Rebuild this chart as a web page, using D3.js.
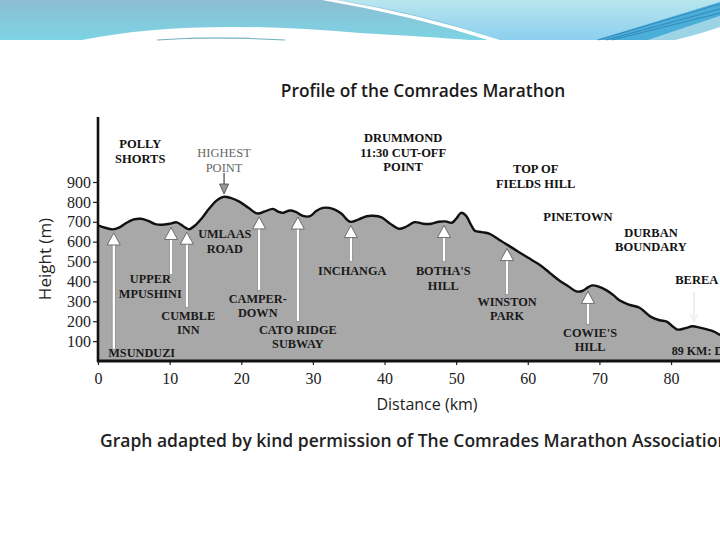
<!DOCTYPE html>
<html>
<head>
<meta charset="utf-8">
<script src="https://cdn.jsdelivr.net/npm/d3@7"></script>
<style>
  body { margin: 0; background: #fff; }
  svg { display: block; }
</style>
</head>
<body>
<svg id="chart"></svg>
<script>
// Course profile
const profileKm = [0, 1, 2, 3, 4, 5, 6, 7, 8, 9, 10, 11, 12, 12.7, 13.5, 14.5, 15.5, 16.5, 17.5, 18.5,
  19.8, 21, 22.2, 23.3, 24.4, 25.2, 25.8, 26.8, 27.6, 28.6, 29.6, 30.5, 31.4, 32.8, 34, 35.2, 36.4,
  37.5, 38.4, 39.6, 40.8, 42, 43, 44.2, 45.4, 46.5, 47.6, 48.5, 49.4, 50, 50.7, 51.4, 52, 52.6, 53.6,
  54.6, 56, 58, 60, 61.6, 63, 64.4, 65.5, 66.8, 67.6, 68.4, 69, 69.8, 71, 72, 72.8, 74, 75.6, 76.4,
  77.2, 78.4, 79.4, 80.2, 80.9, 82, 83, 84, 84.9, 86, 86.8, 88, 89];
const profileHeight = [682, 670, 662, 672, 695, 712, 715, 705, 688, 685, 690, 697, 675, 662, 680, 718,
  765, 805, 825, 820, 800, 770, 742, 752, 765, 750, 745, 757, 750, 730, 728, 755, 770, 765, 740, 700,
  712, 728, 730, 722, 690, 665, 675, 698, 690, 690, 700, 702, 695, 715, 745, 730, 690, 655, 648, 640,
  610, 565, 520, 485, 445, 405, 380, 350, 352, 370, 380, 375, 355, 330, 305, 285, 268, 245, 222, 205,
  198, 175, 158, 165, 175, 168, 160, 148, 132, 115, 100];

const xTicks = [0, 10, 20, 30, 40, 50, 60, 70, 80];
const yTicks = [100, 200, 300, 400, 500, 600, 700, 800, 900];

// Landmarks marked with white arrows (km of arrow, height of arrow base)
const arrowKm = [2.2, 10.2, 12.4, 22.5, 27.9, 35.3, 48.3, 57.1, 68.4];
const arrowBase = [60, 435, 270, 355, 200, 500, 500, 335, 185];

// Labels inside the profile: text lines, km (centre) and height (first baseline)
const innerNames = [["MSUNDUZI"], ["UPPER", "MPUSHINI"], ["CUMBLE", "INN"], ["UMLAAS", "ROAD"],
  ["CAMPER-", "DOWN"], ["CATO RIDGE", "SUBWAY"], ["INCHANGA"], ["BOTHA'S", "HILL"],
  ["WINSTON", "PARK"], ["COWIE'S", "HILL"]];
const innerKm = [6.1, 7.3, 12.6, 17.7, 22.3, 27.9, 35.5, 48.2, 57.1, 68.7];
const innerHeight = [18, 392, 208, 618, 292, 137, 432, 432, 278, 122];

// Labels above the profile
const topNames = [["POLLY", "SHORTS"], ["HIGHEST", "POINT"], ["DRUMMOND", "11:30 CUT-OFF", "POINT"],
  ["TOP OF", "FIELDS HILL"], ["PINETOWN"], ["DURBAN", "BOUNDARY"], ["BEREA"]];
const topKm = [5.9, 17.6, 42.6, 61.1, 67.0, 77.2, 83.6];
const topHeight = [1070, 1025, 1100, 945, 705, 625, 385];

const W = 720, H = 540;
const svg = d3.select("#chart").attr("width", W).attr("height", H);

// ---- decorative header band ----
const defs = svg.append("defs");
const g1 = defs.append("linearGradient").attr("id", "bandLeft").attr("x1", 0).attr("y1", 0).attr("x2", 0).attr("y2", 1);
g1.append("stop").attr("offset", "0%").attr("stop-color", "#8cbdd3");
g1.append("stop").attr("offset", "100%").attr("stop-color", "#7dd4e4");
const g2 = defs.append("linearGradient").attr("id", "bandRight").attr("x1", 0).attr("y1", 0).attr("x2", 0).attr("y2", 1);
g2.append("stop").attr("offset", "0%").attr("stop-color", "#b8e6ee");
g2.append("stop").attr("offset", "100%").attr("stop-color", "#8ccfee");

const head = svg.append("g");
head.append("rect").attr("x", 0).attr("y", 0).attr("width", W).attr("height", 40).attr("fill", "url(#bandLeft)");
head.append("path").attr("d", "M335,0 L720,0 L720,40 L500,40 Q420,12 335,0 Z").attr("fill", "url(#bandRight)");
head.append("path").attr("d", "M322,0 L336,0 Q420,14 500,40 L488,40 Q410,15 322,0 Z").attr("fill", "#ffffff");
head.append("path").attr("d", "M82,40 Q190,18 360,33 Q430,37 470,40 Z").attr("fill", "#ffffff");
head.append("path").attr("d", "M596,40 L720,2 L720,16 L648,40 Z").attr("fill", "#4aaed8");
head.append("path").attr("d", "M648,40 L720,16 L720,27 Q700,34 675,40 Z").attr("fill", "#9cd4e6");
head.append("path").attr("d", "M675,40 Q700,34 720,27 L720,40 Z").attr("fill", "#ffffff");
[[598, 40, 720, 4], [606, 40, 720, 9], [612, 40, 720, 13]].forEach(l => {
  head.append("line").attr("x1", l[0]).attr("y1", l[1]).attr("x2", l[2]).attr("y2", l[3])
    .attr("stroke", "#2f7fb4").attr("stroke-width", 0.8);
});
head.append("path").attr("d", "M157,40 Q210,36 285,40").attr("fill", "none").attr("stroke", "#6fb0c0").attr("stroke-width", 1);
head.append("path").attr("d", "M190,38 L250,38").attr("fill", "none").attr("stroke", "#8cc2d0").attr("stroke-width", 0.8);

// ---- scales ----
const x = d3.scaleLinear().domain([0, 89]).range([98, 98 + 89 * 7.163]);
const y = d3.scaleLinear().domain([0, 900]).range([361, 182]);
const heightAt = d3.scaleLinear().domain(profileKm).range(profileHeight);

const pts = profileKm.map((k, i) => [k, profileHeight[i]]);

// gray area under the profile
svg.append("path")
  .datum(pts)
  .attr("fill", "#a8a8a8")
  .attr("d", d3.area().x(d => x(d[0])).y0(y(0)).y1(d => y(d[1])).curve(d3.curveCatmullRom));

svg.append("path")
  .datum(pts)
  .attr("fill", "none")
  .attr("stroke", "#111")
  .attr("stroke-width", 2.4)
  .attr("d", d3.line().x(d => x(d[0])).y(d => y(d[1])).curve(d3.curveCatmullRom));

// ---- axes ----
const yAxis = svg.append("g")
  .attr("transform", "translate(98,0)")
  .call(d3.axisLeft(y).tickValues(yTicks).tickSize(5).tickPadding(2));
yAxis.select(".domain").remove();
yAxis.selectAll("text").attr("font-family", "Liberation Serif, serif").attr("font-size", 16).attr("fill", "#222");
yAxis.selectAll("line").attr("stroke", "#222").attr("stroke-width", 1.2);

const xAxis = svg.append("g")
  .attr("transform", "translate(0," + y(0) + ")")
  .call(d3.axisBottom(x).tickValues(xTicks).tickSize(4).tickPadding(8));
xAxis.select(".domain").remove();
xAxis.selectAll("text").attr("font-family", "Liberation Serif, serif").attr("font-size", 16).attr("fill", "#222");
xAxis.selectAll("line").attr("stroke", "#222").attr("stroke-width", 1.2);

svg.append("line").attr("x1", 98).attr("x2", 98).attr("y1", 117).attr("y2", 362)
  .attr("stroke", "#111").attr("stroke-width", 2.6);
svg.append("line").attr("x1", 97).attr("x2", W).attr("y1", y(0)).attr("y2", y(0))
  .attr("stroke", "#111").attr("stroke-width", 3);

// ---- landmark arrows ----
arrowKm.forEach((k, i) => {
  const ax = x(k);
  const tip = y(heightAt(k)) + 4;
  const base = y(arrowBase[i]);
  svg.append("rect").attr("x", ax - 1.6).attr("y", tip + 10).attr("width", 3.2).attr("height", base - tip - 10)
    .attr("fill", "#fff").attr("stroke", "#666").attr("stroke-width", 0.5);
  svg.append("path")
    .attr("d", `M${ax - 6.5},${tip + 12} L${ax},${tip} L${ax + 6.5},${tip + 12} Z`)
    .attr("fill", "#fff").attr("stroke", "#555").attr("stroke-width", 0.8);
});

// faint arrow down to Berea
(function () {
  const bx = x(83.2), tip = y(heightAt(83.2)) - 3;
  svg.append("line").attr("x1", bx).attr("x2", bx).attr("y1", 292).attr("y2", tip - 8)
    .attr("stroke", "#eee").attr("stroke-width", 2);
  svg.append("path").attr("d", `M${bx - 5},${tip - 9} L${bx},${tip} L${bx + 5},${tip - 9} Z`).attr("fill", "#f2f2f2");
})();

// arrow down to the highest point
(function () {
  const hx = x(17.6), tip = y(heightAt(17.6)) - 3;
  svg.append("line").attr("x1", hx).attr("x2", hx).attr("y1", 173).attr("y2", tip - 8)
    .attr("stroke", "#555").attr("stroke-width", 1.3);
  svg.append("path").attr("d", `M${hx - 4.5},${tip - 10} L${hx},${tip} L${hx + 4.5},${tip - 10} Z`)
    .attr("fill", "#999").attr("stroke", "#444").attr("stroke-width", 0.8);
})();

// ---- labels ----
function drawLabel(lines, k, h, color, size, weight, anchor) {
  const t = svg.append("text")
    .attr("x", x(k)).attr("y", y(h))
    .attr("text-anchor", anchor || "middle")
    .attr("font-family", "Liberation Serif, serif")
    .attr("font-size", size).attr("font-weight", weight)
    .attr("fill", color);
  lines.forEach((s, j) => {
    t.append("tspan").attr("x", x(k)).attr("dy", j === 0 ? 0 : 14.5).text(s);
  });
}

innerNames.forEach((n, i) => drawLabel(n, innerKm[i], innerHeight[i], "#1a1a1a", 12.3, "bold"));
drawLabel(["89 KM: DURBAN"], 80.1, 28, "#1a1a1a", 12, "bold", "start");

topNames.forEach((n, i) => {
  const gray = n[0] === "HIGHEST";
  drawLabel(n, topKm[i], topHeight[i], gray ? "#666" : "#111", 12.5, gray ? "normal" : "bold");
});

// ---- titles ----
svg.append("text").attr("x", 423).attr("y", 97).attr("text-anchor", "middle")
  .attr("font-family", "Open Sans, sans-serif").attr("font-size", 17.3).attr("font-weight", 600)
  .attr("fill", "#1a1a1a").text("Profile of the Comrades Marathon");

svg.append("text").attr("transform", "translate(51,259) rotate(-90)").attr("text-anchor", "middle")
  .attr("font-family", "Open Sans, sans-serif").attr("font-size", 17)
  .attr("fill", "#222").text("Height (m)");

svg.append("text").attr("x", 427).attr("y", 410).attr("text-anchor", "middle")
  .attr("font-family", "Open Sans, sans-serif").attr("font-size", 16)
  .attr("fill", "#222").text("Distance (km)");

svg.append("text").attr("x", 100).attr("y", 447)
  .attr("font-family", "Open Sans, sans-serif").attr("font-size", 17.5).attr("font-weight", 600)
  .attr("fill", "#222").text("Graph adapted by kind permission of The Comrades Marathon Association");
</script>
</body>
</html>
